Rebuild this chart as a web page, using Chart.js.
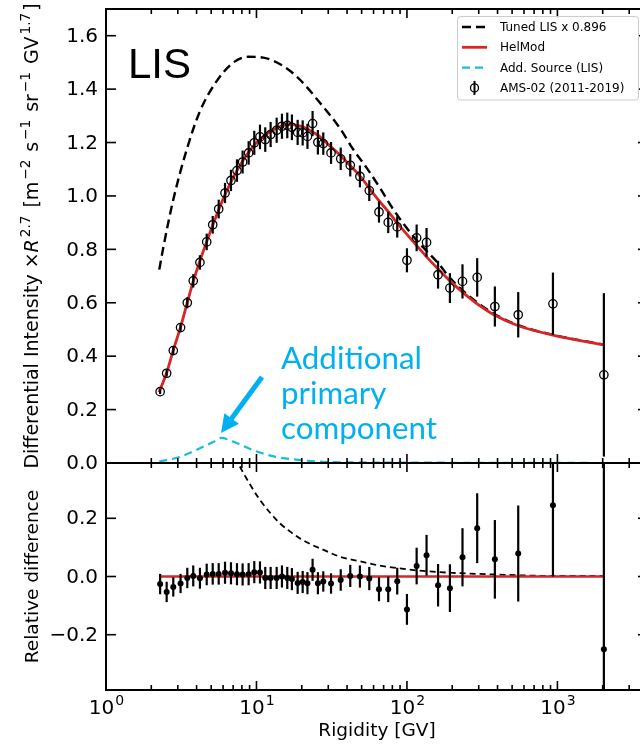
<!DOCTYPE html>
<html>
<head>
<meta charset="utf-8">
<script src="https://cdn.jsdelivr.net/npm/chart.js@4.4.1/dist/chart.umd.min.js"></script>
<style>
  html, body { margin: 0; padding: 0; background: #fff; overflow: hidden; }
  #wrap { position: relative; width: 640px; height: 745px; overflow: hidden; }
  canvas { position: absolute; left: 0; top: 0; }
</style>
</head>
<body>
<div id="wrap">
  <canvas id="upper" width="660" height="745"></canvas>
  <canvas id="lower" width="660" height="745"></canvas>
</div>
<script>
// rigidity axis (GV)
var xMin = 1, xMax = 4000;

// AMS-02 (2011-2019) points
var amsR = [2.29, 2.53, 2.80, 3.13, 3.47, 3.80, 4.21, 4.67, 5.12, 5.61,
    6.18, 6.77, 7.42, 8.09, 8.87, 9.67, 10.55, 11.44, 12.42, 13.62,
    14.77, 16.02, 17.2, 18.78, 20.28, 21.82, 23.6, 25.6, 27.8, 31.3,
    36.3, 42.0, 48.7, 56.2, 65.2, 75.1, 86.2, 100, 116, 135,
    161, 193, 234, 293, 384, 549, 934, 2036];
var amsFlux = [0.267, 0.336, 0.421, 0.507, 0.600, 0.682, 0.751, 0.828, 0.892, 0.951,
    1.011, 1.058, 1.095, 1.127, 1.161, 1.199, 1.221, 1.211, 1.230, 1.246,
    1.261, 1.264, 1.257, 1.238, 1.236, 1.223, 1.271, 1.201, 1.196, 1.161,
    1.139, 1.115, 1.073, 1.020, 0.940, 0.901, 0.884, 0.759, 0.843, 0.826,
    0.705, 0.655, 0.680, 0.695, 0.586, 0.555, 0.596, 0.330];
var amsFluxErr = [0.009, 0.012, 0.014, 0.017, 0.021, 0.025, 0.027, 0.031, 0.033, 0.035,
    0.038, 0.040, 0.042, 0.043, 0.044, 0.045, 0.046, 0.046, 0.047, 0.047,
    0.047, 0.048, 0.048, 0.047, 0.047, 0.047, 0.047, 0.046, 0.042, 0.041,
    0.042, 0.042, 0.041, 0.039, 0.040, 0.040, 0.040, 0.045, 0.050, 0.054,
    0.052, 0.056, 0.064, 0.072, 0.075, 0.085, 0.117, 0.306];
var amsRel = [-0.026, -0.053, -0.036, -0.024, -0.005, 0.002, -0.006, 0.007, 0.009, 0.009,
    0.013, 0.011, 0.008, 0.007, 0.008, 0.015, 0.014, -0.005, -0.005, -0.005,
    0.0, -0.005, -0.009, -0.022, -0.019, -0.023, 0.023, -0.023, -0.017, -0.024,
    -0.012, 0.002, 0.0, -0.007, -0.044, -0.044, -0.016, -0.113, 0.036, 0.073,
    -0.030, -0.040, 0.066, 0.166, 0.059, 0.079, 0.245, -0.250];
var amsRelErr = [0.035, 0.035, 0.033, 0.033, 0.035, 0.036, 0.036, 0.037, 0.037, 0.037,
    0.038, 0.038, 0.038, 0.038, 0.038, 0.038, 0.038, 0.038, 0.038, 0.038,
    0.038, 0.038, 0.038, 0.038, 0.038, 0.038, 0.038, 0.038, 0.035, 0.035,
    0.037, 0.038, 0.038, 0.040, 0.041, 0.044, 0.046, 0.053, 0.063, 0.070,
    0.073, 0.082, 0.100, 0.120, 0.135, 0.165, 0.245, 0.690];

// HelMod modulated spectrum
var helmodR = [2.25, 2.53, 2.8, 3.13, 3.47, 3.8, 4.21, 4.67, 5.12, 5.61,
    6.18, 6.77, 7.42, 8.17, 9.0, 9.73, 11.0, 12.5, 14.0, 15.5,
    17.0, 19.0, 21.0, 23.5, 26, 30, 36, 42, 49, 56,
    65, 75, 86, 100, 116, 135, 160, 193, 234, 293,
    384, 549, 934, 2036];
var helmod = [0.265, 0.338, 0.423, 0.509, 0.601, 0.680, 0.757, 0.829, 0.890, 0.948,
    1.005, 1.052, 1.095, 1.135, 1.168, 1.192, 1.220, 1.243, 1.257, 1.265,
    1.267, 1.263, 1.255, 1.240, 1.225, 1.193, 1.152, 1.113, 1.073, 1.030,
    0.983, 0.942, 0.899, 0.856, 0.814, 0.772, 0.728, 0.682, 0.640, 0.596,
    0.553, 0.514, 0.479, 0.442];
var helmodRelR = [2.25, 2036];
var helmodRel = [0, 0];

// tuned LIS x 0.896
var lisR = [2.26, 2.40, 2.80, 3.44, 4.21, 5.44, 7.0, 8.84, 11.1, 15.1,
    19.4, 26.4, 35.9, 44, 54, 66.2, 81.3, 99.7, 116, 134.6,
    165, 193, 293, 384, 549, 934, 2036];
var lis = [0.724, 0.805, 0.986, 1.174, 1.317, 1.430, 1.499, 1.521, 1.518, 1.486,
    1.436, 1.349, 1.253, 1.174, 1.105, 1.030, 0.949, 0.880, 0.834, 0.795,
    0.742, 0.693, 0.601, 0.557, 0.516, 0.480, 0.443];
var lisRelR = [6.8, 7.77, 9.07, 10.55, 12.28, 14.3, 16.67, 19.4, 22.66, 26.4,
    35.9, 48.7, 66.2, 85.3, 116, 193, 384, 888, 2036];
var lisRel = [0.44, 0.377, 0.316, 0.263, 0.220, 0.183, 0.155, 0.131, 0.112, 0.097,
    0.068, 0.052, 0.037, 0.029, 0.021, 0.013, 0.007, 0.002, 0.002];

// additional source (LIS)
var addR = [2.26, 3.14, 4.21, 5.2, 5.82, 7.0, 9.4, 13.2, 19.4, 26.4, 50, 200, 2036];
var addSrc = [0.005, 0.024, 0.055, 0.080, 0.094, 0.080, 0.049, 0.024, 0.011, 0.005, 0.002, 0.001, 0.0];

var upperTicks = [0, 0.2, 0.4, 0.6, 0.8, 1.0, 1.2, 1.4, 1.6];
var lowerTicks = [-0.2, 0, 0.2];
var decadeLabels = ['0', '1', '2', '3'];

var FONT = '"DejaVu Sans", sans-serif';
var RED = '#d62728', CYAN = '#17becf', NOTE = '#00b0f0';

function pts(xs, ys) {
    return xs.map(function (x, i) { return {x: x, y: ys[i]}; });
}

function tickText(v) {
    var s = Math.abs(v).toFixed(1);
    return v < -1e-9 ? '\u2212' + s : s;
}

function line(ctx, x1, y1, x2, y2) {
    ctx.beginPath();
    ctx.moveTo(x1, y1);
    ctx.lineTo(x2, y2);
    ctx.stroke();
}

// rotated axis title made of plain / italic / superscript runs
function drawRuns(ctx, runs, bx, cy, size) {
    ctx.save();
    ctx.translate(bx, cy);
    ctx.rotate(-Math.PI / 2);
    ctx.textBaseline = 'alphabetic';
    ctx.textAlign = 'left';
    var fonts = runs.map(function (r) {
        return (r.it ? 'italic ' : '') + (r.sup ? size * 0.72 : size) + 'px ' + FONT;
    });
    var gap = size * 0.1;
    var widths = runs.map(function (r, i) {
        ctx.font = fonts[i];
        return ctx.measureText(r.t).width + (r.sup ? 2 * gap : 0);
    });
    var total = widths.reduce(function (s, w) { return s + w; }, 0);
    var x = -total / 2;
    runs.forEach(function (r, i) {
        ctx.font = fonts[i];
        ctx.fillText(r.t, x + (r.sup ? gap : 0), r.sup ? -size * 0.4 : 0);
        x += widths[i];
    });
    ctx.restore();
}

var framePlugin = {
    id: 'frame',
    afterDraw: function (chart, args, opts) {
        var ctx = chart.ctx, a = chart.chartArea;
        var xs = chart.scales.x, ys = chart.scales.y;
        ctx.save();
        ctx.strokeStyle = '#000';
        ctx.fillStyle = '#000';
        ctx.lineWidth = 1.6;
        for (var d = 0; d < 4; d++) {
            for (var k = 1; k < 10; k++) {
                var v = k * Math.pow(10, d);
                if (v > xMax) break;
                var px = xs.getPixelForValue(v);
                var len = k === 1 ? 9 : 5;
                line(ctx, px, a.bottom, px, a.bottom - len);
                line(ctx, px, a.top, px, a.top + len);
                if (opts.xLabels && k === 1) {
                    ctx.font = '20px ' + FONT;
                    var w1 = ctx.measureText('10').width;
                    ctx.font = '14px ' + FONT;
                    var w2 = ctx.measureText(decadeLabels[d]).width;
                    var x0 = px - (w1 + w2) / 2;
                    ctx.textAlign = 'left';
                    ctx.textBaseline = 'alphabetic';
                    ctx.font = '20px ' + FONT;
                    ctx.fillText('10', x0, a.bottom + 24);
                    ctx.font = '14px ' + FONT;
                    ctx.fillText(decadeLabels[d], x0 + w1 + 1, a.bottom + 15);
                }
            }
        }
        ctx.font = '20px ' + FONT;
        ctx.textAlign = 'right';
        ctx.textBaseline = 'middle';
        opts.yTicks.forEach(function (t) {
            var py = ys.getPixelForValue(t);
            line(ctx, a.left, py, a.left + 10, py);
            line(ctx, a.right, py, a.right - 10, py);
            ctx.fillText(tickText(t), a.left - 8, py + 1);
        });
        ctx.lineWidth = 2;
        ctx.strokeRect(a.left, a.top, a.right - a.left, a.bottom - a.top);
        if (opts.title) drawRuns(ctx, opts.title, 37.5, (a.top + a.bottom) / 2, opts.titleSize || 18.5);
        if (opts.xTitle) {
            ctx.font = '18.5px ' + FONT;
            ctx.textAlign = 'center';
            ctx.textBaseline = 'alphabetic';
            ctx.fillText(opts.xTitle, (a.left + a.right) / 2, 736);
        }
        ctx.restore();
    }
};

var errorBarPlugin = {
    id: 'errorBars',
    afterDatasetsDraw: function (chart) {
        var ctx = chart.ctx, a = chart.chartArea, ys = chart.scales.y;
        ctx.save();
        ctx.beginPath();
        ctx.rect(a.left, a.top, a.right - a.left, a.bottom - a.top);
        ctx.clip();
        chart.data.datasets.forEach(function (ds, i) {
            if (!ds.errors) return;
            var meta = chart.getDatasetMeta(i);
            ctx.strokeStyle = '#000';
            ctx.lineWidth = 2.2;
            meta.data.forEach(function (pt, j) {
                var v = ds.data[j].y, e = ds.errors[j];
                line(ctx, pt.x, ys.getPixelForValue(v - e), pt.x, ys.getPixelForValue(v + e));
            });
        });
        ctx.restore();
    }
};

var notesPlugin = {
    id: 'notes',
    afterDraw: function (chart) {
        var ctx = chart.ctx;
        ctx.save();
        // LIS tag
        ctx.fillStyle = '#000';
        ctx.font = '42px "Liberation Sans", sans-serif';
        ctx.textAlign = 'left';
        ctx.textBaseline = 'alphabetic';
        ctx.fillText('LIS', 128, 78);

        // annotation text, sized so "Additional" spans the same width
        ctx.fillStyle = NOTE;
        ctx.font = '30px Lato, sans-serif';
        var size = 30 * 141 / ctx.measureText('Additional').width;
        ctx.font = size.toFixed(1) + 'px Lato, sans-serif';
        ctx.fillText('Additional', 281, 369);
        ctx.fillText('primary', 281, 404);
        ctx.fillText('component', 281, 439);

        // arrow
        var x1 = 262, y1 = 377, x2 = 221, y2 = 433;
        var ang = Math.atan2(y2 - y1, x2 - x1), hl = 18, hw = 9;
        var bx = x2 - hl * Math.cos(ang), by = y2 - hl * Math.sin(ang);
        ctx.strokeStyle = NOTE;
        ctx.lineWidth = 5;
        line(ctx, x1, y1, bx + 2 * Math.cos(ang), by + 2 * Math.sin(ang));
        ctx.beginPath();
        ctx.moveTo(x2, y2);
        ctx.lineTo(bx + hw * Math.sin(ang), by - hw * Math.cos(ang));
        ctx.lineTo(bx - hw * Math.sin(ang), by + hw * Math.cos(ang));
        ctx.closePath();
        ctx.fill();

        // legend
        var ds = chart.data.datasets;
        var lx = 457.5, ly = 16.5, rows = [27, 47.3, 67.6, 87.9];
        ctx.fillStyle = 'rgba(255,255,255,0.85)';
        ctx.strokeStyle = '#cccccc';
        ctx.lineWidth = 1;
        ctx.beginPath();
        ctx.roundRect(lx, ly, 181, 83.5, 3);
        ctx.fill();
        ctx.stroke();
        ctx.font = '12px ' + FONT;
        ctx.textBaseline = 'middle';
        ds.forEach(function (d, r) {
            var y = rows[r];
            ctx.save();
            if (d.showLine) {
                ctx.strokeStyle = d.borderColor;
                ctx.lineWidth = d.borderWidth;
                ctx.setLineDash(d.borderDash || []);
                line(ctx, 462, y, 487, y);
            } else {
                ctx.strokeStyle = '#000';
                ctx.lineWidth = 2;
                line(ctx, 474.5, y - 7, 474.5, y + 7);
                ctx.lineWidth = 1.3;
                ctx.beginPath();
                ctx.arc(474.5, y, 4, 0, Math.PI * 2);
                ctx.stroke();
            }
            ctx.restore();
            ctx.fillStyle = '#000';
            ctx.fillText(d.label, 500, y + 1);
        });
        ctx.restore();
    }
};

function makeOptions(pad, yMin, yMax, frame) {
    return {
        responsive: false,
        animation: false,
        devicePixelRatio: 1,
        layout: {padding: pad},
        scales: {
            x: {type: 'logarithmic', min: xMin, max: xMax, display: false},
            y: {type: 'linear', min: yMin, max: yMax, display: false}
        },
        plugins: {legend: {display: false}, tooltip: {enabled: false}, frame: frame}
    };
}

new Chart(document.getElementById('upper'), {
    type: 'scatter',
    data: {
        datasets: [
            {label: 'Tuned LIS x 0.896', data: pts(lisR, lis), showLine: true, borderColor: '#000',
                borderWidth: 2.4, borderDash: [9, 5], pointRadius: 0, cubicInterpolationMode: 'monotone', order: 3},
            {label: 'HelMod', data: pts(helmodR, helmod), showLine: true, borderColor: RED,
                borderWidth: 2.8, pointRadius: 0, cubicInterpolationMode: 'monotone', order: 2},
            {label: 'Add. Source (LIS)', data: pts(addR, addSrc), showLine: true, borderColor: CYAN,
                borderWidth: 2.2, borderDash: [8, 5], pointRadius: 0, cubicInterpolationMode: 'monotone', order: 1},
            {label: 'AMS-02 (2011-2019)', data: pts(amsR, amsFlux), errors: amsFluxErr, showLine: false,
                borderColor: '#000', pointRadius: 4.2, pointBorderWidth: 1.3, pointBorderColor: '#000',
                pointBackgroundColor: 'rgba(0,0,0,0)', order: 0}
        ]
    },
    options: makeOptions({left: 106, top: 9, right: 12, bottom: 282}, 0, 1.7, {
        yTicks: upperTicks,
        titleSize: 19,
        title: [{t: 'Differential Intensity \u00d7'}, {t: 'R', it: true}, {t: '2.7', sup: true},
            {t: ' [m'}, {t: '\u22122', sup: true}, {t: ' s'}, {t: '\u22121', sup: true},
            {t: ' sr'}, {t: '\u22121', sup: true}, {t: ' GV'}, {t: '1.7', sup: true}, {t: ']'}]
    }),
    plugins: [framePlugin, errorBarPlugin, notesPlugin]
});

new Chart(document.getElementById('lower'), {
    type: 'scatter',
    data: {
        datasets: [
            {label: 'Tuned LIS', data: pts(lisRelR, lisRel), showLine: true, borderColor: '#000',
                borderWidth: 1.8, borderDash: [6, 4], pointRadius: 0, cubicInterpolationMode: 'monotone', order: 2},
            {label: 'HelMod', data: pts(helmodRelR, helmodRel), showLine: true, borderColor: RED,
                borderWidth: 2.4, pointRadius: 0, order: 1},
            {label: 'AMS-02', data: pts(amsR, amsRel), errors: amsRelErr, showLine: false,
                borderColor: '#000', pointRadius: 3, pointBorderWidth: 0,
                pointBackgroundColor: '#000', order: 0}
        ]
    },
    options: makeOptions({left: 106, top: 463, right: 12, bottom: 55}, -0.39, 0.39, {
        yTicks: lowerTicks,
        xLabels: true,
        xTitle: 'Rigidity [GV]',
        title: [{t: 'Relative difference'}]
    }),
    plugins: [framePlugin, errorBarPlugin]
});
</script>
</body>
</html>
